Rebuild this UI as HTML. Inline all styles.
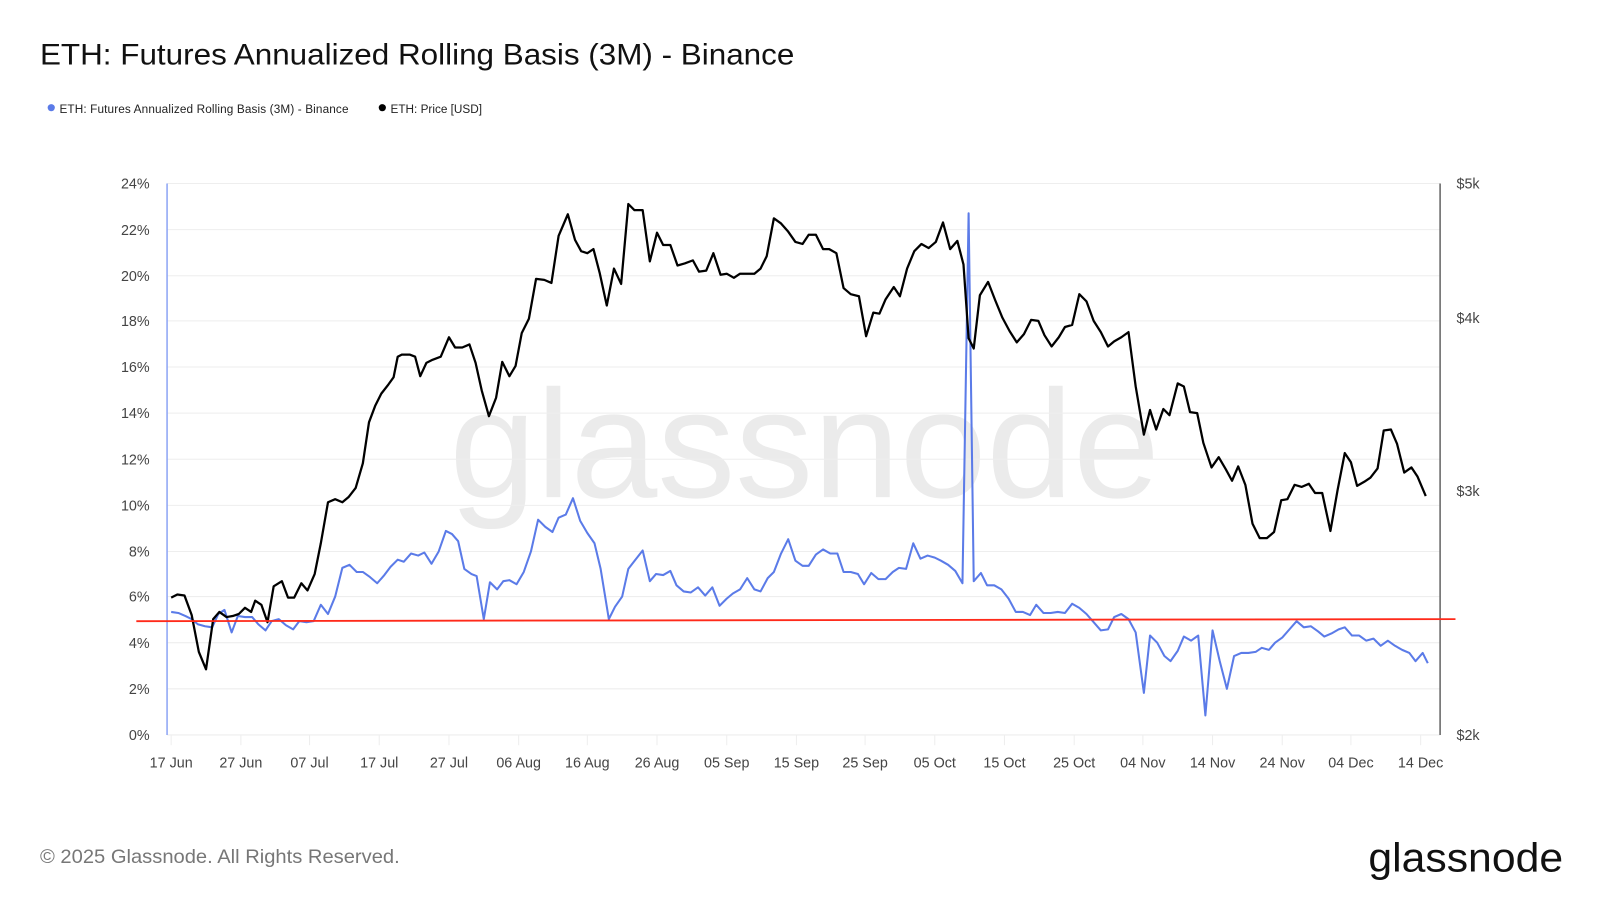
<!DOCTYPE html>
<html><head><meta charset="utf-8"><style>html,body{margin:0;padding:0;background:#fff;}svg{display:block}</style></head>
<body>
<svg width="1600" height="900" viewBox="0 0 1561 878" xmlns="http://www.w3.org/2000/svg" font-family="Liberation Sans, sans-serif">
<rect width="1561" height="878" fill="#fff"/>
<text x="39" y="63" font-size="28.5" fill="#111" textLength="736" lengthAdjust="spacingAndGlyphs">ETH: Futures Annualized Rolling Basis (3M) - Binance</text>
<circle cx="50" cy="105" r="3.5" fill="#5b7be8"/>
<text x="58" y="110" font-size="11.5" fill="#222" textLength="282">ETH: Futures Annualized Rolling Basis (3M) - Binance</text>
<circle cx="373" cy="105" r="3.5" fill="#000"/>
<text x="381" y="110" font-size="11.5" fill="#222">ETH: Price [USD]</text>
<text x="785" y="485" font-size="150" fill="#ebebeb" text-anchor="middle" textLength="693" lengthAdjust="spacingAndGlyphs">glassnode</text>
<g stroke="#eeeeee" stroke-width="1">
<line x1="163" y1="179" x2="1405" y2="179"/><line x1="163" y1="224" x2="1405" y2="224"/><line x1="163" y1="269" x2="1405" y2="269"/><line x1="163" y1="313" x2="1405" y2="313"/><line x1="163" y1="358" x2="1405" y2="358"/><line x1="163" y1="403" x2="1405" y2="403"/><line x1="163" y1="448" x2="1405" y2="448"/><line x1="163" y1="493" x2="1405" y2="493"/><line x1="163" y1="538" x2="1405" y2="538"/><line x1="163" y1="582" x2="1405" y2="582"/><line x1="163" y1="627" x2="1405" y2="627"/><line x1="163" y1="672" x2="1405" y2="672"/><line x1="163" y1="717" x2="1405" y2="717"/>
<line x1="167" y1="717" x2="167" y2="727"/><line x1="235" y1="717" x2="235" y2="727"/><line x1="302" y1="717" x2="302" y2="727"/><line x1="370" y1="717" x2="370" y2="727"/><line x1="438" y1="717" x2="438" y2="727"/><line x1="506" y1="717" x2="506" y2="727"/><line x1="573" y1="717" x2="573" y2="727"/><line x1="641" y1="717" x2="641" y2="727"/><line x1="709" y1="717" x2="709" y2="727"/><line x1="777" y1="717" x2="777" y2="727"/><line x1="844" y1="717" x2="844" y2="727"/><line x1="912" y1="717" x2="912" y2="727"/><line x1="980" y1="717" x2="980" y2="727"/><line x1="1048" y1="717" x2="1048" y2="727"/><line x1="1115" y1="717" x2="1115" y2="727"/><line x1="1183" y1="717" x2="1183" y2="727"/><line x1="1251" y1="717" x2="1251" y2="727"/><line x1="1318" y1="717" x2="1318" y2="727"/><line x1="1386" y1="717" x2="1386" y2="727"/>
</g>
<line x1="163" y1="179" x2="163" y2="717" stroke="#8ea5f5" stroke-width="1.5"/>
<line x1="1405" y1="179" x2="1405" y2="717" stroke="#666" stroke-width="1.5"/>
<g font-size="14" fill="#444" text-anchor="end">
<text x="146" y="184">24%</text><text x="146" y="229">22%</text><text x="146" y="274">20%</text><text x="146" y="318">18%</text><text x="146" y="363">16%</text><text x="146" y="408">14%</text><text x="146" y="453">12%</text><text x="146" y="498">10%</text><text x="146" y="543">8%</text><text x="146" y="587">6%</text><text x="146" y="632">4%</text><text x="146" y="677">2%</text><text x="146" y="722">0%</text>
</g>
<g font-size="14" fill="#444">
<text x="1421" y="184">$5k</text><text x="1421" y="315">$4k</text><text x="1421" y="484">$3k</text><text x="1421" y="722">$2k</text>
</g>
<g font-size="14" fill="#444" text-anchor="middle">
<text x="167" y="749">17 Jun</text><text x="235" y="749">27 Jun</text><text x="302" y="749">07 Jul</text><text x="370" y="749">17 Jul</text><text x="438" y="749">27 Jul</text><text x="506" y="749">06 Aug</text><text x="573" y="749">16 Aug</text><text x="641" y="749">26 Aug</text><text x="709" y="749">05 Sep</text><text x="777" y="749">15 Sep</text><text x="844" y="749">25 Sep</text><text x="912" y="749">05 Oct</text><text x="980" y="749">15 Oct</text><text x="1048" y="749">25 Oct</text><text x="1115" y="749">04 Nov</text><text x="1183" y="749">14 Nov</text><text x="1251" y="749">24 Nov</text><text x="1318" y="749">04 Dec</text><text x="1386" y="749">14 Dec</text>
</g>
<polyline fill="none" stroke="#5b7be8" stroke-width="2" stroke-linejoin="round" points="167,597 174,598 181,601 187,604 193,609 200,611 207,612 213,599 219,595 226,617 232,601 239,602 246,602 252,609 259,615 265,606 272,604 279,610 286,614 292,606 299,607 306,606 313,590 320,599 327,582 334,554 341,551 348,558 354,558 361,563 368,569 375,561 381,553 388,546 394,548 401,540 408,542 414,539 421,550 428,538 435,518 441,521 447,528 453,555 460,560 465,562 472,604 478,568 485,575 491,567 497,566 504,570 511,558 518,538 525,507 532,514 539,519 545,505 552,502 559,486 566,508 573,520 580,530 586,555 594,604 600,592 607,582 613,555 620,546 627,537 634,567 640,560 647,561 654,557 660,571 667,577 674,578 681,573 688,581 695,573 702,591 709,584 715,579 722,575 729,564 736,575 742,577 749,564 755,558 762,540 769,526 776,547 783,552 789,552 796,541 803,536 810,540 817,540 823,558 830,558 837,560 843,570 850,559 857,565 864,565 871,558 877,554 884,555 891,530 898,545 905,542 912,544 918,547 925,551 932,557 939,569 945,208 950,567 957,559 963,571 970,571 977,575 984,584 991,597 998,597 1005,600 1011,590 1018,598 1025,598 1032,597 1039,598 1046,589 1053,593 1060,599 1067,607 1074,615 1081,614 1087,602 1094,599 1101,604 1108,617 1116,676 1122,620 1129,627 1136,640 1142,645 1149,635 1155,621 1162,625 1169,620 1176,698 1183,615 1190,645 1197,672 1204,640 1211,637 1218,637 1225,636 1231,632 1238,634 1244,627 1251,622 1258,614 1265,606 1272,612 1279,611 1286,616 1292,621 1299,618 1306,614 1312,612 1319,620 1326,620 1333,625 1340,623 1347,630 1354,625 1361,630 1368,634 1375,637 1381,645 1388,637 1393,647"/>
<polyline fill="none" stroke="#000" stroke-width="2.2" stroke-linejoin="round" points="167,583 173,580 180,581 187,600 194,636 201,653 208,604 214,597 221,602 227,601 233,599 239,593 245,597 249,586 255,590 261,607 267,572 275,567 281,583 287,583 294,569 300,576 307,560 313,530 320,490 327,487 334,490 340,485 347,476 354,452 360,412 366,396 372,384 379,375 384,368 388,348 392,346 400,346 405,348 410,367 416,354 422,351 430,348 438,329 444,339 451,339 458,336 464,354 470,381 477,406 484,388 490,353 497,367 503,357 509,325 516,311 523,272 531,273 538,276 545,230 554,209 561,234 567,245 573,247 579,243 585,266 592,298 599,262 606,277 613,199 619,205 627,205 634,255 641,227 647,239 654,239 661,259 668,257 676,254 682,265 689,264 696,247 703,268 709,267 716,271 722,267 729,267 736,267 742,262 748,250 755,213 762,218 769,226 776,236 783,238 789,229 796,229 803,243 809,243 816,247 823,281 830,287 838,289 845,328 852,305 858,306 864,292 872,280 878,289 885,262 892,245 899,238 906,242 913,236 920,217 927,243 934,235 940,258 945,330 950,340 956,288 964,275 971,293 978,310 985,323 992,334 999,326 1006,312 1013,313 1019,327 1026,338 1033,329 1039,319 1046,317 1053,287 1060,294 1067,313 1074,324 1081,338 1087,333 1094,329 1101,324 1108,377 1116,424 1122,400 1128,419 1135,399 1141,405 1149,374 1155,377 1161,402 1168,403 1174,432 1182,456 1189,446 1196,458 1202,469 1208,455 1215,473 1222,511 1229,525 1236,525 1243,519 1250,488 1256,487 1263,473 1270,475 1277,472 1283,481 1290,481 1298,518 1305,478 1312,442 1318,451 1324,474 1331,470 1337,466 1344,457 1350,420 1357,419 1363,433 1370,461 1377,456 1383,465 1391,484"/>
<line x1="133" y1="606" x2="1420" y2="604" stroke="#ff2a1a" stroke-width="1.8"/>
<text x="39" y="842" font-size="18.5" fill="#777" textLength="351" lengthAdjust="spacingAndGlyphs">© 2025 Glassnode. All Rights Reserved.</text>
<text x="1525" y="850" font-size="40" fill="#111" text-anchor="end" textLength="190" lengthAdjust="spacingAndGlyphs">glassnode</text>
</svg>
</body></html>
